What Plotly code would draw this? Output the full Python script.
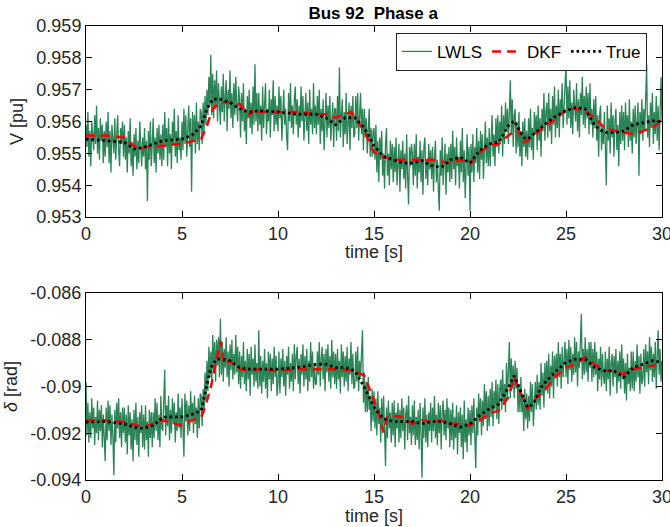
import plotly.graph_objects as go
from plotly.subplots import make_subplots

# ---------------- data ----------------
# LWLS estimates, one row per second (20 samples/s), last value at t = 30 s
v_lwls = [
    0.9559, 0.9552, 0.9563, 0.9549, 0.9557, 0.9546, 0.9560, 0.9556, 0.9551, 0.9562, 0.9553, 0.9565, 0.9550, 0.9558, 0.9548, 0.9561, 0.9554, 0.9559, 0.9547, 0.9557,
    0.9549, 0.9560, 0.9552, 0.9563, 0.9547, 0.9557, 0.9544, 0.9559, 0.9554, 0.9550, 0.9561, 0.9548, 0.9556, 0.9562, 0.9551, 0.9546, 0.9558, 0.9553, 0.9560, 0.9549,
    0.9559, 0.9548, 0.9555, 0.9544, 0.9557, 0.9550, 0.9561, 0.9546, 0.9553, 0.9543, 0.9556, 0.9549, 0.9558, 0.9545, 0.9554, 0.9547, 0.9560, 0.9551, 0.9546, 0.9555,
    0.9549, 0.9558, 0.9545, 0.9554, 0.9535, 0.9557, 0.9548, 0.9560, 0.9546, 0.9553, 0.9561, 0.9547, 0.9555, 0.9544, 0.9558, 0.9550, 0.9559, 0.9548, 0.9556, 0.9546,
    0.9559, 0.9548, 0.9563, 0.9552, 0.9558, 0.9546, 0.9561, 0.9550, 0.9556, 0.9545, 0.9560, 0.9553, 0.9564, 0.9549, 0.9557, 0.9547, 0.9562, 0.9551, 0.9555, 0.9548,
    0.9560, 0.9551, 0.9564, 0.9553, 0.9562, 0.9549, 0.9558, 0.9565, 0.9552, 0.9561, 0.9538, 0.9563, 0.9554, 0.9562, 0.9550, 0.9566, 0.9553, 0.9560, 0.9551, 0.9564,
    0.9563, 0.9553, 0.9566, 0.9557, 0.9568, 0.9559, 0.9570, 0.9562, 0.9574, 0.9565, 0.9581, 0.9562, 0.9575, 0.9561, 0.9573, 0.9564, 0.9576, 0.9560, 0.9572, 0.9566,
    0.9559, 0.9571, 0.9563, 0.9575, 0.9560, 0.9568, 0.9573, 0.9557, 0.9570, 0.9564, 0.9576, 0.9561, 0.9569, 0.9558, 0.9572, 0.9562, 0.9574, 0.9565, 0.9560, 0.9571,
    0.9567, 0.9555, 0.9569, 0.9560, 0.9572, 0.9557, 0.9564, 0.9553, 0.9568, 0.9561, 0.9570, 0.9558, 0.9566, 0.9556, 0.9571, 0.9559, 0.9578, 0.9560, 0.9569, 0.9557,
    0.9569, 0.9559, 0.9565, 0.9554, 0.9571, 0.9558, 0.9566, 0.9572, 0.9556, 0.9564, 0.9560, 0.9570, 0.9555, 0.9567, 0.9562, 0.9573, 0.9557, 0.9568, 0.9559, 0.9565,
    0.9557, 0.9571, 0.9561, 0.9568, 0.9554, 0.9566, 0.9570, 0.9559, 0.9564, 0.9555, 0.9551, 0.9569, 0.9560, 0.9572, 0.9558, 0.9565, 0.9556, 0.9567, 0.9571, 0.9559,
    0.9567, 0.9555, 0.9565, 0.9558, 0.9571, 0.9560, 0.9568, 0.9554, 0.9563, 0.9569, 0.9557, 0.9566, 0.9553, 0.9570, 0.9559, 0.9564, 0.9556, 0.9572, 0.9558, 0.9565,
    0.9556, 0.9568, 0.9559, 0.9570, 0.9553, 0.9564, 0.9557, 0.9567, 0.9551, 0.9563, 0.9569, 0.9555, 0.9565, 0.9558, 0.9568, 0.9554, 0.9562, 0.9566, 0.9552, 0.9564,
    0.9564, 0.9554, 0.9568, 0.9557, 0.9577, 0.9555, 0.9562, 0.9567, 0.9552, 0.9563, 0.9556, 0.9569, 0.9553, 0.9561, 0.9566, 0.9551, 0.9565, 0.9558, 0.9568, 0.9555,
    0.9556, 0.9568, 0.9558, 0.9569, 0.9554, 0.9562, 0.9569, 0.9556, 0.9564, 0.9551, 0.9564, 0.9555, 0.9561, 0.9550, 0.9558, 0.9564, 0.9549, 0.9558, 0.9549, 0.9557,
    0.9558, 0.9548, 0.9559, 0.9544, 0.9554, 0.9541, 0.9555, 0.9548, 0.9557, 0.9543, 0.9550, 0.9539, 0.9553, 0.9558, 0.9543, 0.9550, 0.9540, 0.9554, 0.9545, 0.9553,
    0.9541, 0.9552, 0.9544, 0.9555, 0.9540, 0.9549, 0.9553, 0.9538, 0.9551, 0.9545, 0.9554, 0.9542, 0.9550, 0.9539, 0.9556, 0.9543, 0.9534, 0.9552, 0.9546, 0.9553,
    0.9550, 0.9540, 0.9553, 0.9543, 0.9556, 0.9539, 0.9549, 0.9544, 0.9554, 0.9541, 0.9551, 0.9537, 0.9552, 0.9555, 0.9542, 0.9548, 0.9540, 0.9553, 0.9545, 0.9551,
    0.9542, 0.9552, 0.9538, 0.9549, 0.9554, 0.9541, 0.9548, 0.9539, 0.9532, 0.9551, 0.9543, 0.9555, 0.9540, 0.9547, 0.9553, 0.9537, 0.9550, 0.9544, 0.9552, 0.9541,
    0.9553, 0.9542, 0.9557, 0.9545, 0.9552, 0.9540, 0.9555, 0.9546, 0.9549, 0.9539, 0.9554, 0.9544, 0.9558, 0.9541, 0.9551, 0.9536, 0.9550, 0.9556, 0.9543, 0.9552,
    0.9532, 0.9553, 0.9544, 0.9556, 0.9541, 0.9552, 0.9547, 0.9558, 0.9544, 0.9554, 0.9542, 0.9557, 0.9548, 0.9556, 0.9542, 0.9553, 0.9560, 0.9547, 0.9555, 0.9546,
    0.9558, 0.9546, 0.9556, 0.9562, 0.9549, 0.9556, 0.9546, 0.9561, 0.9552, 0.9562, 0.9550, 0.9560, 0.9554, 0.9565, 0.9549, 0.9562, 0.9553, 0.9566, 0.9557, 0.9564,
    0.9553, 0.9564, 0.9573, 0.9556, 0.9567, 0.9552, 0.9562, 0.9564, 0.9550, 0.9560, 0.9552, 0.9563, 0.9549, 0.9557, 0.9546, 0.9560, 0.9552, 0.9561, 0.9549, 0.9557,
    0.9548, 0.9561, 0.9552, 0.9564, 0.9551, 0.9558, 0.9548, 0.9563, 0.9556, 0.9562, 0.9551, 0.9565, 0.9554, 0.9561, 0.9549, 0.9564, 0.9557, 0.9569, 0.9554, 0.9563,
    0.9566, 0.9555, 0.9569, 0.9557, 0.9564, 0.9553, 0.9568, 0.9559, 0.9571, 0.9555, 0.9565, 0.9558, 0.9570, 0.9555, 0.9567, 0.9562, 0.9572, 0.9558, 0.9565, 0.9574,
    0.9578, 0.9559, 0.9571, 0.9561, 0.9573, 0.9558, 0.9566, 0.9556, 0.9570, 0.9565, 0.9560, 0.9572, 0.9557, 0.9567, 0.9555, 0.9569, 0.9562, 0.9574, 0.9559, 0.9568,
    0.9558, 0.9571, 0.9561, 0.9569, 0.9556, 0.9572, 0.9559, 0.9564, 0.9555, 0.9567, 0.9558, 0.9568, 0.9554, 0.9562, 0.9549, 0.9562, 0.9565, 0.9551, 0.9558, 0.9553,
    0.9563, 0.9552, 0.9540, 0.9565, 0.9554, 0.9561, 0.9550, 0.9566, 0.9555, 0.9562, 0.9549, 0.9560, 0.9564, 0.9551, 0.9559, 0.9546, 0.9563, 0.9553, 0.9565, 0.9554,
    0.9563, 0.9551, 0.9566, 0.9556, 0.9562, 0.9552, 0.9567, 0.9554, 0.9560, 0.9550, 0.9564, 0.9555, 0.9565, 0.9553, 0.9559, 0.9566, 0.9543, 0.9563, 0.9556, 0.9567,
    0.9554, 0.9564, 0.9557, 0.9567, 0.9578, 0.9555, 0.9562, 0.9552, 0.9566, 0.9558, 0.9569, 0.9553, 0.9563, 0.9556, 0.9568, 0.9554, 0.9565, 0.9551, 0.9564, 0.9574,
    0.9560,
]

d_lwls = [
    -0.0898, -0.0921, -0.0907, -0.0924, -0.0911, -0.0922, -0.0905, -0.0918, -0.0909, -0.0925, -0.0913, -0.0920, -0.0906, -0.0923, -0.0910, -0.0919, -0.0908, -0.0926, -0.0912, -0.0921,
    -0.0932, -0.0909, -0.0923, -0.0906, -0.0919, -0.0908, -0.0925, -0.0912, -0.0921, -0.0938, -0.0910, -0.0924, -0.0907, -0.0918, -0.0905, -0.0922, -0.0911, -0.0926, -0.0909, -0.0920,
    -0.0909, -0.0924, -0.0912, -0.0929, -0.0908, -0.0921, -0.0911, -0.0927, -0.0914, -0.0932, -0.0910, -0.0923, -0.0907, -0.0925, -0.0913, -0.0930, -0.0911, -0.0920, -0.0908, -0.0926,
    -0.0912, -0.0927, -0.0908, -0.0923, -0.0915, -0.0930, -0.0910, -0.0922, -0.0911, -0.0926, -0.0911, -0.0922, -0.0905, -0.0919, -0.0907, -0.0923, -0.0912, -0.0926, -0.0904, -0.0918,
    -0.0919, -0.0906, -0.0893, -0.0921, -0.0908, -0.0917, -0.0904, -0.0923, -0.0910, -0.0920, -0.0905, -0.0916, -0.0907, -0.0924, -0.0911, -0.0919, -0.0903, -0.0918, -0.0909, -0.0922,
    -0.0905, -0.0917, -0.0930, -0.0903, -0.0915, -0.0906, -0.0921, -0.0908, -0.0919, -0.0902, -0.0914, -0.0907, -0.0920, -0.0904, -0.0916, -0.0909, -0.0922, -0.0905, -0.0918, -0.0903,
    -0.0904, -0.0917, -0.0901, -0.0911, -0.0894, -0.0906, -0.0889, -0.0902, -0.0883, -0.0896, -0.0885, -0.0899, -0.0878, -0.0893, -0.0881, -0.0898, -0.0880, -0.0891, -0.0879, -0.0896,
    -0.0871, -0.0895, -0.0881, -0.0898, -0.0884, -0.0892, -0.0879, -0.0896, -0.0885, -0.0900, -0.0882, -0.0893, -0.0880, -0.0897, -0.0886, -0.0895, -0.0878, -0.0894, -0.0883, -0.0899,
    -0.0885, -0.0901, -0.0887, -0.0896, -0.0881, -0.0899, -0.0889, -0.0902, -0.0884, -0.0897, -0.0886, -0.0904, -0.0883, -0.0895, -0.0888, -0.0900, -0.0882, -0.0898, -0.0890, -0.0901,
    -0.0876, -0.0900, -0.0887, -0.0903, -0.0889, -0.0898, -0.0884, -0.0901, -0.0890, -0.0905, -0.0885, -0.0897, -0.0886, -0.0902, -0.0888, -0.0899, -0.0883, -0.0896, -0.0887, -0.0904,
    -0.0899, -0.0885, -0.0903, -0.0888, -0.0896, -0.0884, -0.0900, -0.0889, -0.0904, -0.0887, -0.0895, -0.0883, -0.0901, -0.0890, -0.0898, -0.0886, -0.0902, -0.0882, -0.0897, -0.0887,
    -0.0883, -0.0899, -0.0888, -0.0903, -0.0886, -0.0895, -0.0882, -0.0900, -0.0887, -0.0897, -0.0884, -0.0902, -0.0889, -0.0898, -0.0881, -0.0896, -0.0885, -0.0901, -0.0890, -0.0899,
    -0.0899, -0.0885, -0.0895, -0.0881, -0.0900, -0.0888, -0.0883, -0.0897, -0.0886, -0.0902, -0.0884, -0.0894, -0.0882, -0.0898, -0.0887, -0.0901, -0.0880, -0.0896, -0.0885, -0.0899,
    -0.0886, -0.0901, -0.0884, -0.0897, -0.0889, -0.0903, -0.0882, -0.0896, -0.0885, -0.0900, -0.0887, -0.0898, -0.0883, -0.0902, -0.0888, -0.0895, -0.0881, -0.0899, -0.0886, -0.0901,
    -0.0900, -0.0885, -0.0898, -0.0883, -0.0902, -0.0889, -0.0896, -0.0886, -0.0876, -0.0907, -0.0894, -0.0911, -0.0898, -0.0911, -0.0896, -0.0910, -0.0904, -0.0919, -0.0901, -0.0915,
    -0.0902, -0.0918, -0.0905, -0.0921, -0.0902, -0.0916, -0.0909, -0.0924, -0.0905, -0.0920, -0.0904, -0.0919, -0.0934, -0.0909, -0.0922, -0.0906, -0.0918, -0.0911, -0.0924, -0.0907,
    -0.0921, -0.0906, -0.0926, -0.0911, -0.0918, -0.0907, -0.0924, -0.0910, -0.0922, -0.0905, -0.0919, -0.0909, -0.0927, -0.0912, -0.0908, -0.0923, -0.0904, -0.0920, -0.0913, -0.0925,
    -0.0908, -0.0921, -0.0906, -0.0925, -0.0913, -0.0923, -0.0910, -0.0927, -0.0907, -0.0920, -0.0939, -0.0909, -0.0922, -0.0905, -0.0924, -0.0912, -0.0926, -0.0911, -0.0919, -0.0907,
    -0.0924, -0.0909, -0.0919, -0.0904, -0.0922, -0.0912, -0.0925, -0.0907, -0.0920, -0.0908, -0.0927, -0.0911, -0.0906, -0.0921, -0.0910, -0.0923, -0.0905, -0.0918, -0.0909, -0.0926,
    -0.0910, -0.0923, -0.0907, -0.0927, -0.0913, -0.0922, -0.0908, -0.0929, -0.0911, -0.0920, -0.0909, -0.0926, -0.0912, -0.0931, -0.0906, -0.0924, -0.0914, -0.0928, -0.0909, -0.0921,
    -0.0910, -0.0925, -0.0908, -0.0920, -0.0905, -0.0921, -0.0935, -0.0909, -0.0921, -0.0903, -0.0915, -0.0905, -0.0921, -0.0906, -0.0917, -0.0899, -0.0914, -0.0902, -0.0919, -0.0904,
    -0.0917, -0.0901, -0.0913, -0.0898, -0.0917, -0.0902, -0.0910, -0.0897, -0.0914, -0.0899, -0.0916, -0.0901, -0.0897, -0.0910, -0.0893, -0.0908, -0.0899, -0.0911, -0.0890, -0.0905,
    -0.0894, -0.0881, -0.0905, -0.0888, -0.0901, -0.0891, -0.0905, -0.0889, -0.0901, -0.0892, -0.0911, -0.0899, -0.0911, -0.0896, -0.0911, -0.0905, -0.0919, -0.0901, -0.0914, -0.0903,
    -0.0918, -0.0904, -0.0915, -0.0898, -0.0911, -0.0899, -0.0917, -0.0903, -0.0898, -0.0910, -0.0895, -0.0908, -0.0898, -0.0910, -0.0890, -0.0904, -0.0894, -0.0909, -0.0890, -0.0902,
    -0.0889, -0.0903, -0.0886, -0.0905, -0.0891, -0.0900, -0.0885, -0.0905, -0.0887, -0.0896, -0.0886, -0.0900, -0.0881, -0.0896, -0.0886, -0.0901, -0.0883, -0.0896, -0.0887, -0.0881,
    -0.0896, -0.0884, -0.0899, -0.0880, -0.0893, -0.0883, -0.0898, -0.0886, -0.0895, -0.0879, -0.0894, -0.0881, -0.0900, -0.0885, -0.0892, -0.0882, -0.0869, -0.0897, -0.0884, -0.0895,
    -0.0879, -0.0894, -0.0884, -0.0898, -0.0881, -0.0892, -0.0881, -0.0898, -0.0884, -0.0896, -0.0881, -0.0895, -0.0885, -0.0902, -0.0888, -0.0897, -0.0883, -0.0900, -0.0886, -0.0896,
    -0.0899, -0.0885, -0.0902, -0.0888, -0.0897, -0.0883, -0.0904, -0.0890, -0.0886, -0.0900, -0.0887, -0.0896, -0.0884, -0.0903, -0.0889, -0.0898, -0.0885, -0.0901, -0.0882, -0.0897,
    -0.0888, -0.0903, -0.0890, -0.0906, -0.0886, -0.0899, -0.0892, -0.0902, -0.0885, -0.0901, -0.0885, -0.0902, -0.0889, -0.0898, -0.0882, -0.0896, -0.0887, -0.0903, -0.0886, -0.0899,
    -0.0897, -0.0884, -0.0900, -0.0882, -0.0894, -0.0885, -0.0899, -0.0879, -0.0893, -0.0883, -0.0898, -0.0886, -0.0896, -0.0881, -0.0901, -0.0887, -0.0876, -0.0895, -0.0884, -0.0898,
    -0.0889,
]

t_true_v = [0, 1, 2, 2.5, 3, 4, 5, 5.5, 6, 6.3, 6.6, 7, 7.5, 8, 8.5, 9, 10, 11, 12, 12.5, 13,
            13.5, 14, 14.5, 15, 15.5, 16, 16.5, 17, 17.5, 18, 18.5, 19, 19.5, 20, 20.5, 21,
            21.5, 22, 22.3, 22.8, 23, 23.5, 24, 24.5, 25, 25.5, 26, 26.5, 27, 27.5, 28, 28.5,
            29, 29.5, 30]
v_true = [0.95545, 0.95540, 0.95535, 0.95514, 0.95519, 0.95540, 0.95545, 0.95556, 0.95587,
          0.95640, 0.95670, 0.95670, 0.95660, 0.95640, 0.95629, 0.95634, 0.95630, 0.95623,
          0.95623, 0.95612, 0.95590, 0.95612, 0.95612, 0.95580, 0.95524, 0.95490, 0.95480,
          0.95470, 0.95470, 0.95477, 0.95462, 0.95456, 0.95480, 0.95488, 0.95470, 0.95509,
          0.95530, 0.95535, 0.95587, 0.95602, 0.95550, 0.95545, 0.95570, 0.95597, 0.95618,
          0.95634, 0.95644, 0.95640, 0.95587, 0.95565, 0.95565, 0.95570, 0.95590, 0.95597,
          0.95602, 0.95600]

t_dkf_v = [0, 1, 2, 2.7, 3, 4, 5, 6, 6.3, 6.6, 7, 7.5, 8, 8.5, 8.8, 9, 10, 11, 12, 12.5, 13,
           13.8, 14.5, 15, 15.5, 16, 17, 18, 19, 19.5, 20, 20.5, 21, 21.5, 22, 22.5, 22.8, 23,
           23.5, 24, 24.5, 25, 25.5, 26, 26.5, 27, 27.5, 28, 28.5, 29, 29.5, 30]
v_dkf = [0.95556, 0.95556, 0.95550, 0.95514, 0.95519, 0.95524, 0.95530, 0.95545, 0.95587,
         0.95640, 0.95660, 0.95660, 0.95655, 0.95620, 0.95640, 0.95630, 0.95630, 0.95630,
         0.95623, 0.95623, 0.95612, 0.95630, 0.95570, 0.95503, 0.95490, 0.95480, 0.95480,
         0.95480, 0.95470, 0.95480, 0.95467, 0.95503, 0.95524, 0.95530, 0.95556, 0.95577,
         0.95535, 0.95540, 0.95566, 0.95590, 0.95608, 0.95640, 0.95640, 0.95630, 0.95612,
         0.95580, 0.95572, 0.95567, 0.95560, 0.95570, 0.95582, 0.95602]

t_true_d = [0, 1, 2, 2.5, 3, 3.5, 4, 4.5, 5, 5.5, 6, 6.2, 6.5, 6.8, 7, 7.5, 8, 8.5, 9, 10, 11,
            12, 12.5, 13, 13.5, 14, 14.5, 15, 15.5, 16, 17, 17.5, 18, 18.5, 19, 19.5, 20,
            20.5, 21, 21.5, 22, 22.3, 22.7, 23, 23.3, 23.7, 24, 24.5, 25, 25.5, 26, 26.5, 27,
            27.5, 28, 28.5, 29, 29.5, 30]
d_true = [-0.09152, -0.09150, -0.09160, -0.09174, -0.09180, -0.09167, -0.09131, -0.09131,
          -0.09130, -0.09120, -0.09103, -0.09030, -0.08919, -0.08883, -0.08883, -0.08890,
          -0.08919, -0.08926, -0.08926, -0.08926, -0.08919, -0.08905, -0.08905, -0.08919,
          -0.08919, -0.08933, -0.09004, -0.09089, -0.09138, -0.09150, -0.09150, -0.09160,
          -0.09150, -0.09150, -0.09160, -0.09174, -0.09160, -0.09124, -0.09096, -0.09075,
          -0.09004, -0.08954, -0.09032, -0.09089, -0.09075, -0.09004, -0.08975, -0.08933,
          -0.08897, -0.08883, -0.08883, -0.08919, -0.08933, -0.08933, -0.08961, -0.08919,
          -0.08905, -0.08890, -0.08897]

t_dkf_d = [0, 1, 2, 3, 3.5, 4, 5, 5.5, 6, 6.2, 6.5, 6.8, 7, 7.2, 7.5, 8, 8.5, 9, 10, 11, 12,
           13, 14, 14.5, 15, 15.3, 15.5, 15.7, 16, 16.5, 17, 17.5, 18, 18.5, 19, 19.5, 20,
           20.5, 21, 21.5, 22, 22.3, 22.6, 23, 23.5, 24, 24.5, 25, 25.5, 26, 26.5, 27, 27.5,
           28, 28.5, 29, 30]
d_dkf = [-0.09145, -0.09145, -0.09152, -0.09173, -0.09160, -0.09145, -0.09167, -0.09145,
         -0.09131, -0.09089, -0.09004, -0.08890, -0.08805, -0.08905, -0.08890, -0.08926,
         -0.08933, -0.08926, -0.08933, -0.08926, -0.08926, -0.08926, -0.08933, -0.08954,
         -0.09060, -0.09131, -0.09195, -0.09131, -0.09124, -0.09131, -0.09160, -0.09145,
         -0.09152, -0.09145, -0.09160, -0.09160, -0.09167, -0.09145, -0.09117, -0.09103,
         -0.09046, -0.08961, -0.09018, -0.09096, -0.09046, -0.09004, -0.08954, -0.08919,
         -0.08905, -0.08876, -0.08905, -0.08933, -0.08933, -0.08947, -0.08926, -0.08919,
         -0.08905]

T_END = 30.0
t_lwls_v = [i * T_END / (len(v_lwls) - 1) for i in range(len(v_lwls))]
t_lwls_d = [i * T_END / (len(d_lwls) - 1) for i in range(len(d_lwls))]

x_ticks = [0, 5, 10, 15, 20, 25, 30]
v_ticks = [0.953, 0.954, 0.955, 0.956, 0.957, 0.958, 0.959]
v_ticktext = ["0.953", "0.954", "0.955", "0.956", "0.957", "0.958", "0.959"]
d_ticks = [-0.094, -0.092, -0.090, -0.088, -0.086]
d_ticktext = ["-0.094", "-0.092", "-0.09", "-0.088", "-0.086"]

# ---------------- figure ----------------
GREEN = "rgb(42,132,86)"
TXT = "#262626"
FONT = "Liberation Sans, Arial, Helvetica, sans-serif"

fig = make_subplots(rows=2, cols=1, vertical_spacing=0.1)

fig.add_trace(go.Scatter(x=t_lwls_v, y=v_lwls, mode="lines", name="LWLS",
                         line=dict(color=GREEN, width=1.3)), row=1, col=1)
fig.add_trace(go.Scatter(x=t_dkf_v, y=v_dkf, mode="lines", name="DKF",
                         line=dict(color="red", width=2.5, dash="9px,6px")), row=1, col=1)
fig.add_trace(go.Scatter(x=t_true_v, y=v_true, mode="lines", name="True",
                         line=dict(color="black", width=2.8, dash="2.5px,3px")), row=1, col=1)

fig.add_trace(go.Scatter(x=t_lwls_d, y=d_lwls, mode="lines", name="LWLS", showlegend=False,
                         line=dict(color=GREEN, width=1.3)), row=2, col=1)
fig.add_trace(go.Scatter(x=t_dkf_d, y=d_dkf, mode="lines", name="DKF", showlegend=False,
                         line=dict(color="red", width=2.5, dash="9px,6px")), row=2, col=1)
fig.add_trace(go.Scatter(x=t_true_d, y=d_true, mode="lines", name="True", showlegend=False,
                         line=dict(color="black", width=2.8, dash="2.5px,3px")), row=2, col=1)

axis_common = dict(showline=True, linecolor="black", linewidth=1, mirror="ticks",
                   ticks="inside", ticklen=6, tickcolor="black", showgrid=False,
                   zeroline=False, automargin=False, ticklabeloverflow="allow",
                   tickfont=dict(size=18, color=TXT))

fig.update_xaxes(range=[0, 30], tickvals=x_ticks, domain=[0, 1], **axis_common)
fig.update_yaxes(**axis_common)
fig.update_yaxes(range=[0.953, 0.959], tickvals=v_ticks, ticktext=v_ticktext,
                 title=dict(text="V [pu]", standoff=8, font=dict(size=18, color=TXT)),
                 domain=[0.579, 1.0], row=1, col=1)
fig.update_yaxes(range=[-0.094, -0.086], tickvals=d_ticks, ticktext=d_ticktext,
                 title=dict(text="<i>δ</i> [rad]", standoff=8, font=dict(size=18, color=TXT)),
                 domain=[0.0, 0.412], row=2, col=1)

# x-axis titles placed just under the tick labels
for yref, shift in (("y domain", -35), ("y2 domain", -36)):
    fig.add_annotation(text="time [s]", x=0.5, xref="x domain", y=0, yref=yref,
                       yanchor="middle", yshift=shift, showarrow=False,
                       font=dict(size=18, color=TXT))

fig.update_layout(
    width=670, height=527,
    margin=dict(l=86, r=8, t=26, b=47),
    paper_bgcolor="white", plot_bgcolor="white",
    font=dict(family=FONT, size=18, color=TXT),
    title=dict(text="<b>Bus 92\u00a0 Phase a</b>", x=0.557, xanchor="center",
               y=0.975, yanchor="middle", font=dict(size=17, color="black")),
    showlegend=True,
    legend=dict(orientation="h", x=0.974, xanchor="right", y=0.943, yanchor="middle",
                bgcolor="white", bordercolor=TXT, borderwidth=1,
                font=dict(size=17, color="black"), itemwidth=30,
                tracegroupgap=0, traceorder="normal"),
)

fig.write_html("out.html", config={"displayModeBar": False},
               post_script="document.body.style.margin='0';document.body.style.overflow='hidden';")
